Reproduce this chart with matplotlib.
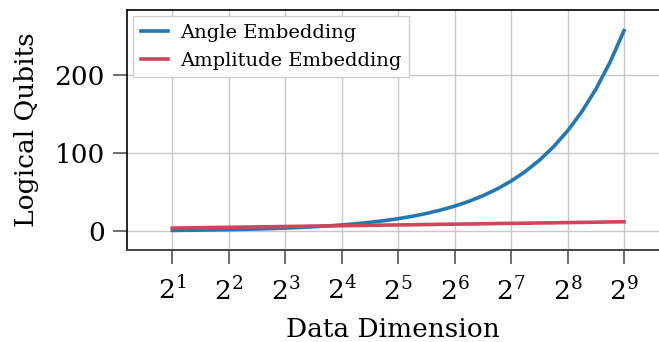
import matplotlib

matplotlib.use("Agg")
import matplotlib.pyplot as plt  # noqa: E402

# data dimension (number of classical features) and qubits needed per encoding
dims = [2, 3, 4, 5, 6, 7, 8, 10, 11, 13, 16, 19, 23, 27, 32, 38, 45, 54, 64,
        76, 91, 108, 128, 152, 181, 215, 256, 304, 362, 431, 512]
angle_qubits = [1, 1.5, 2, 2.5, 3, 3.5, 4, 5, 5.5, 6.5, 8, 9.5, 11.5, 13.5, 16, 19,
                22.5, 27, 32, 38, 45.5, 54, 64, 76, 90.5, 107.5, 128, 152, 181,
                215.5, 256]
amplitude_qubits = [4, 4.6, 5, 5.3, 5.6, 5.8, 6, 6.3, 6.5, 6.7, 7, 7.2, 7.5, 7.8,
                    8, 8.2, 8.5, 8.8, 9, 9.2, 9.5, 9.8, 10, 10.2, 10.5, 10.7, 11,
                    11.2, 11.5, 11.8, 12]
xtick_exps = [1, 2, 3, 4, 5, 6, 7, 8, 9]
yticks = [0, 100, 200]

plt.rcParams["font.family"] = ["DejaVu Serif"]
plt.rcParams["mathtext.fontset"] = "dejavuserif"

fig = plt.figure(figsize=(6.59, 3.42), dpi=100)
ax = fig.add_axes([0.193, 0.269, 0.807, 0.701])

ax.plot(dims, angle_qubits, color="#2377b4", lw=2.6, label="Angle Embedding", zorder=3)
ax.plot(dims, amplitude_qubits, color="#d0455a", lw=2.6, label="Amplitude Embedding", zorder=3)

ax.set_xscale("log", base=2)
ax.set_xlim(2 ** 0.2, 2 ** 9.62)
ax.set_ylim(-24, 282)
ax.set_xticks([2 ** e for e in xtick_exps])
ax.set_xticklabels([f"$2^{{{e}}}$" for e in xtick_exps])
ax.minorticks_off()
ax.set_yticks(yticks)

ax.grid(True, color="#c8c8c8", lw=1.0, zorder=0)
ax.tick_params(axis="both", labelsize=19, length=10, width=1.2, color="#555555")
ax.tick_params(axis="x", pad=9)
ax.tick_params(axis="y", pad=6)

for side in ("left", "top"):
    ax.spines[side].set_color("black")
    ax.spines[side].set_linewidth(1.2)
ax.spines["bottom"].set_color("#444444")
ax.spines["bottom"].set_linewidth(1.4)
ax.spines["right"].set_visible(False)

ax.set_xlabel("Data Dimension", fontsize=19, labelpad=9)
ax.set_ylabel("Logical Qubits", fontsize=19, labelpad=11)

leg = ax.legend(loc="upper left", fontsize=14, fancybox=False, framealpha=1,
                edgecolor="#d0d0d0", handlelength=1.4, handletextpad=0.6,
                borderaxespad=0.3)
leg.get_frame().set_linewidth(1.0)

fig.savefig("out.png", dpi=100)
